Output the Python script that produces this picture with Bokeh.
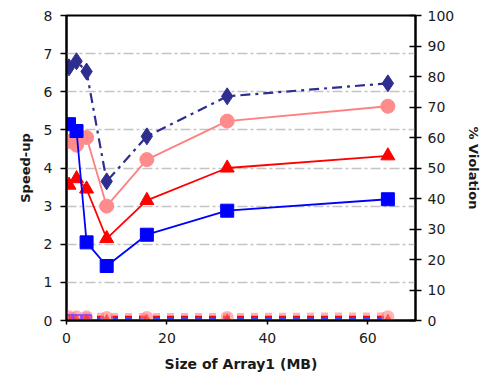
from bokeh.plotting import figure
from bokeh.models import Range1d, LinearAxis, FixedTicker
from bokeh.embed import file_html
from bokeh.resources import INLINE

# ---- data ----
size_mb = [0.5, 2, 4, 8, 16, 32, 64]
speedup_diamond = [6.64, 6.8, 6.53, 3.65, 4.83, 5.88, 6.22]
speedup_circle = [4.7, 4.6, 4.8, 3.0, 4.22, 5.23, 5.62]
speedup_triangle = [3.55, 3.72, 3.45, 2.15, 3.15, 4.0, 4.32]
speedup_square = [5.15, 4.97, 2.05, 1.43, 2.25, 2.88, 3.18]

viol_circle = [1.2, 1.2, 1.2, 1.0, 1.0, 1.0, 1.2]
viol_triangle = [0.6, 0.6, 0.6, 0.6, 0.6, 0.6, 0.6]
viol_square = [0.6, 0.6, 0.6, 0.6, 0.6, 0.6, 0.6]
viol_diamond = [0.3, 0.3, 0.3, 0.3, 0.3, 0.3, 0.3]

left_ticks = [0, 1, 2, 3, 4, 5, 6, 7, 8]
right_ticks = [0, 10, 20, 30, 40, 50, 60, 70, 80, 90, 100]
x_ticks = [0, 20, 40, 60]

FONT = "DejaVu Sans"
TXT = "#1a1a1a"

p = figure(width=490, height=382, output_backend="svg", toolbar_location=None,
           x_range=Range1d(0, 69.5), y_range=Range1d(0, 8),
           min_border_left=66, min_border_right=75, min_border_top=15, min_border_bottom=62)
p.extra_y_ranges = {"pct": Range1d(0, 100)}
p.background_fill_color = "white"
p.border_fill_color = "white"
p.outline_line_color = "black"
p.outline_line_width = 2

p.xgrid.visible = False
p.ygrid.ticker = FixedTicker(ticks=left_ticks[1:-1])
p.ygrid.grid_line_color = "#c4c4c4"
p.ygrid.grid_line_dash = "10 3 3 3"
p.ygrid.grid_line_width = 1.5


def style(ax, label_size):
    ax.axis_line_color = "black"
    ax.axis_line_width = 2
    ax.major_tick_line_color = "black"
    ax.major_tick_line_width = 1.5
    ax.minor_tick_line_color = None
    ax.major_label_text_font = FONT
    ax.major_label_text_font_size = "14px"
    ax.major_label_text_color = TXT
    ax.axis_label_text_font = FONT
    ax.axis_label_text_font_size = label_size
    ax.axis_label_text_font_style = "bold"
    ax.axis_label_text_color = TXT


style(p.xaxis[0], "14px")
style(p.yaxis[0], "13px")

p.xaxis.ticker = FixedTicker(ticks=x_ticks)
p.xaxis.major_tick_in = 0
p.xaxis.major_tick_out = 4
p.xaxis.major_label_standoff = 8
p.xaxis.axis_label = "Size of Array1 (MB)"
p.xaxis.axis_label_standoff = 10

p.yaxis.ticker = FixedTicker(ticks=left_ticks)
p.yaxis.major_tick_in = 0
p.yaxis.major_tick_out = 6
p.yaxis.major_label_standoff = 8
p.yaxis.axis_label = "Speed-up"
p.yaxis.axis_label_standoff = 8

ry = LinearAxis(y_range_name="pct", ticker=FixedTicker(ticks=right_ticks),
                axis_label="% Violation")
style(ry, "13px")
ry.major_tick_in = 6
ry.major_tick_out = 6
ry.major_label_standoff = 6
ry.axis_label_standoff = 9
p.add_layout(ry, "right")

# violation series (secondary axis), drawn first
p.line(size_mb, viol_circle, y_range_name="pct", line_color="#ff9a9a", line_width=9,
       line_dash="7 7", line_alpha=0.75)
p.line(size_mb, viol_triangle, y_range_name="pct", line_color="#ff0000", line_width=6,
       line_dash="7 7")
p.line(size_mb, viol_square, y_range_name="pct", line_color="#3a4cff", line_width=2.5,
       line_dash="7 7")
p.scatter(size_mb, viol_circle, y_range_name="pct", marker="circle", size=13,
          fill_color="#ff8080", line_color=None, fill_alpha=0.6)
p.scatter(size_mb, viol_triangle, y_range_name="pct", marker="triangle", size=9,
          fill_color="#ff3030", line_color=None, fill_alpha=0.7)
p.scatter(size_mb[:3], viol_diamond[:3], y_range_name="pct", marker="square", size=9,
          fill_color=None, line_color="#8040ff", line_width=1.5)

# speed-up series
p.line(size_mb, speedup_diamond, line_color="#2e2e8f", line_width=2.2, line_dash="10 5 3 5")
p.scatter(size_mb, speedup_diamond, marker="diamond", size=17, fill_color="#2e2e8f",
          line_color="#2e2e8f")

p.line(size_mb, speedup_circle, line_color="#ff8080", line_width=1.8)
p.scatter(size_mb, speedup_circle, marker="circle", size=14, fill_color="#ff8c8c",
          line_color="#ff8c8c")

p.line(size_mb, speedup_triangle, line_color="#ff0000", line_width=1.8)
p.scatter(size_mb, speedup_triangle, marker="triangle", size=14, fill_color="#ff0000",
          line_color="#ff0000")

p.line(size_mb, speedup_square, line_color="#0000ff", line_width=1.8)
p.scatter(size_mb, speedup_square, marker="square", size=13, fill_color="#0000ff",
          line_color="#0000ff")

open("out.html", "w").write(file_html(p, INLINE))
